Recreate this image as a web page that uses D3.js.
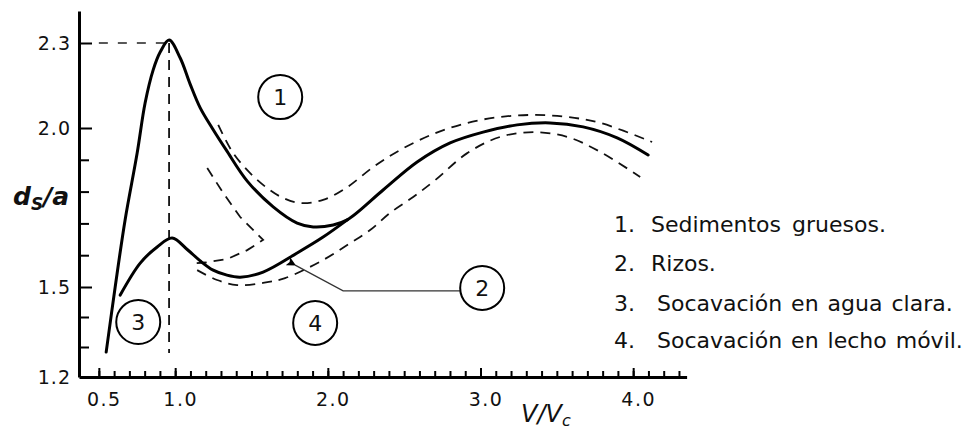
<!DOCTYPE html>
<html>
<head>
<meta charset="utf-8">
<title>Socavación: ds/a contra V/Vc</title>
<script src="https://cdn.jsdelivr.net/npm/d3@7"></script>
<style>
  body { margin: 0; background: #fff; }
  text { font-family: "DejaVu Sans", sans-serif; fill: #111; }
</style>
</head>
<body>
<script>
// curvas: [V/Vc, ds/a]
var curvaGruesos = [[0.548,1.283],[0.607,1.50],[0.672,1.711],[0.751,1.921],[0.803,2.088],[0.856,2.205],
  [0.902,2.268],[0.96,2.31],[1.033,2.247],[1.098,2.155],[1.164,2.071],[1.242,2.0],[1.334,1.931],
  [1.472,1.833],[1.642,1.752],[1.799,1.701],[1.904,1.689],[2.035,1.695],[2.127,1.711],[2.362,1.805],
  [2.585,1.893],[2.801,1.953],[3.017,1.987],[3.24,2.011],[3.456,2.018],[3.672,2.004],[3.895,1.969],[4.098,1.915]];

var curvaRizos = [[0.64,1.473],[0.771,1.575],[0.882,1.626],[0.98,1.654],[1.079,1.618],[1.164,1.582],
  [1.249,1.553],[1.334,1.538],[1.426,1.531],[1.576,1.547],[1.799,1.607],[1.969,1.657],[2.127,1.711]];

// envolventes punteadas
var limiteSuperior = [[1.282,2.011],[1.38,1.921],[1.491,1.858],[1.603,1.811],[1.707,1.78],[1.819,1.764],
  [1.969,1.774],[2.127,1.814],[2.297,1.877],[2.474,1.931],[2.69,1.981],[2.913,2.018],[3.129,2.039],
  [3.345,2.046],[3.568,2.039],[3.784,2.018],[4.124,1.956]];

var limiteCuna = [[1.21,1.874],[1.314,1.796],[1.426,1.72],[1.576,1.648],[1.472,1.616],[1.341,1.588],
  [1.2,1.577],[1.131,1.575]];

var limiteInferior = [[1.144,1.553],[1.275,1.522],[1.406,1.506],[1.576,1.513],[1.72,1.528],[1.969,1.585],
  [2.146,1.638],[2.277,1.679],[2.408,1.733],[2.559,1.783],[2.703,1.836],[2.913,1.921],[3.129,1.972],
  [3.345,1.987],[3.568,1.972],[3.784,1.925],[4.046,1.846]];

// pico y flecha hacia la zona 2
var pico = [0.96, 2.3];
var flecha = [[1.786,1.569],[2.1,1.487],[2.867,1.487]];

// zonas numeradas
var zonas = [["1", 1.688, 2.109], ["2", 3.011, 1.497], ["3", 0.758, 1.383], ["4", 1.917, 1.38]];

// ejes
var xMarcas = d3.range(5, 44).map(function(d) { return d / 10; });
var xEtiquetas = [0.5, 1.0, 2.0, 3.0, 4.0];
var yMarcas = [1.3, 1.4, 1.6, 1.7, 1.8, 1.9];
var yEtiquetas = [1.2, 1.5, 2.0, 2.3];

var leyenda = [["1.", "Sedimentos gruesos."], ["2.", "Rizos."],
  ["3.", "Socavación en agua clara."], ["4.", "Socavación en lecho móvil."]];

var breedte = 968, hoogte = 430;

var svg = d3.select("body").append("svg")
  .attr("width", breedte)
  .attr("height", hoogte);

// escala x lineal, escala y por tramos (la figura original esta dibujada a mano)
var x = d3.scaleLinear().domain([0.37, 4.35]).range([79, 686.6]);
var y = d3.scaleLinear().domain([1.2, 1.5, 2.0, 2.3, 2.41]).range([377, 287, 128, 43, 11]);

var linea = d3.line()
  .x(function(d) { return x(d[0]); })
  .y(function(d) { return y(d[1]); })
  .curve(d3.curveCatmullRom.alpha(0.5));

var lineaRecta = d3.line()
  .x(function(d) { return x(d[0]); })
  .y(function(d) { return y(d[1]); });

// lineas de referencia del pico
svg.append("line")
  .attr("x1", x(0.5)).attr("x2", x(pico[0]))
  .attr("y1", y(pico[1])).attr("y2", y(pico[1]))
  .attr("stroke", "#222").attr("stroke-width", 1.6)
  .attr("stroke-dasharray", "9,10");

svg.append("line")
  .attr("x1", x(pico[0])).attr("x2", x(pico[0]))
  .attr("y1", y(pico[1])).attr("y2", y(1.28))
  .attr("stroke", "#111").attr("stroke-width", 1.8)
  .attr("stroke-dasharray", "10,7");

// envolventes punteadas
[limiteSuperior, limiteInferior].forEach(function(datos) {
  svg.append("path")
    .attr("d", linea(datos))
    .attr("fill", "none")
    .attr("stroke", "#111")
    .attr("stroke-width", 1.8)
    .attr("stroke-dasharray", "10,7");
});

svg.append("path")
  .attr("d", lineaRecta(limiteCuna))
  .attr("fill", "none")
  .attr("stroke", "#111")
  .attr("stroke-width", 1.8)
  .attr("stroke-dasharray", "10,7");

// curvas principales
[curvaGruesos, curvaRizos].forEach(function(datos) {
  svg.append("path")
    .attr("d", linea(datos))
    .attr("fill", "none")
    .attr("stroke", "#000")
    .attr("stroke-width", 3)
    .attr("stroke-linecap", "round")
    .attr("stroke-linejoin", "round");
});

// flecha hacia la zona 2
svg.append("defs").append("marker")
  .attr("id", "punta")
  .attr("viewBox", "0 0 10 10")
  .attr("refX", 1).attr("refY", 5)
  .attr("markerWidth", 9).attr("markerHeight", 9)
  .attr("markerUnits", "userSpaceOnUse")
  .attr("orient", "auto-start-reverse")
  .append("path")
  .attr("d", "M0,5L10,0L8,5L10,10Z")
  .attr("fill", "#000");

svg.append("path")
  .attr("d", lineaRecta(flecha))
  .attr("fill", "none")
  .attr("stroke", "#333")
  .attr("stroke-width", 1.3)
  .attr("marker-start", "url(#punta)");

// circulos numerados
var zona = svg.selectAll(".zona")
  .data(zonas)
  .enter()
  .append("g")
  .attr("class", "zona")
  .attr("transform", function(d) { return "translate(" + x(d[1]) + "," + y(d[2]) + ")"; });

zona.append("circle")
  .attr("r", 22)
  .attr("fill", "#fff")
  .attr("stroke", "#000")
  .attr("stroke-width", 2);

zona.append("text")
  .attr("text-anchor", "middle")
  .attr("dy", "0.36em")
  .attr("font-size", "22px")
  .text(function(d) { return d[0]; });

// eje x
svg.append("g")
  .attr("transform", "translate(0," + y(1.2) + ")")
  .call(d3.axisBottom(x).tickValues(xMarcas).tickSizeInner(-6).tickSizeOuter(0).tickFormat(""))
  .call(function(g) {
    g.select(".domain").attr("stroke-width", 3);
    g.selectAll(".tick line").attr("stroke-width", 2);
  });

svg.append("g")
  .attr("transform", "translate(0," + y(1.2) + ")")
  .call(d3.axisBottom(x).tickValues(xEtiquetas).tickSizeInner(-9).tickSizeOuter(0).tickPadding(16)
    .tickFormat(d3.format(".1f")))
  .call(function(g) {
    g.select(".domain").remove();
    g.selectAll(".tick line").attr("stroke-width", 2);
    g.selectAll(".tick text")
      .attr("font-family", "DejaVu Sans")
      .attr("font-size", "19px")
      .attr("letter-spacing", "1.5px")
      .attr("dx", 5)
      .attr("fill", "#111");
  });

// eje y
svg.append("g")
  .attr("transform", "translate(" + x(0.37) + ",0)")
  .call(d3.axisLeft(y).tickValues(yMarcas).tickSizeInner(-10).tickSizeOuter(0).tickFormat(""))
  .call(function(g) {
    g.select(".domain").attr("stroke-width", 3);
    g.selectAll(".tick line").attr("stroke-width", 2);
  });

svg.append("g")
  .attr("transform", "translate(" + x(0.37) + ",0)")
  .call(d3.axisLeft(y).tickValues(yEtiquetas).tickSizeInner(-13).tickSizeOuter(0).tickPadding(8)
    .tickFormat(d3.format(".1f")))
  .call(function(g) {
    g.select(".domain").remove();
    g.selectAll(".tick line").attr("stroke-width", 2)
      .attr("display", function(d) { return d === 1.2 ? "none" : null; });
    g.selectAll(".tick text")
      .attr("font-family", "DejaVu Sans")
      .attr("font-size", "19px")
      .attr("letter-spacing", "1px")
      .attr("fill", "#111");
  });

// titulos de los ejes
var tituloY = svg.append("text")
  .attr("x", 13)
  .attr("y", 205)
  .attr("font-family", "Liberation Serif")
  .attr("font-style", "italic")
  .attr("font-weight", "bold")
  .attr("font-size", "25px");
tituloY.append("tspan").text("d");
tituloY.append("tspan").attr("font-size", "17px").attr("dy", 5).text("S");
tituloY.append("tspan").attr("dy", -5).text("/a");

var tituloX = svg.append("text")
  .attr("x", 521)
  .attr("y", 422)
  .attr("font-family", "Liberation Serif")
  .attr("font-style", "italic")
  .attr("font-size", "24px");
tituloX.append("tspan").text("V/V");
tituloX.append("tspan").attr("font-size", "16px").attr("dy", 4).text("c");

// leyenda
var filas = [232, 271, 311, 348];
var fila = svg.selectAll(".leyenda")
  .data(leyenda)
  .enter()
  .append("text")
  .attr("class", "leyenda")
  .attr("y", function(d, i) { return filas[i]; })
  .attr("font-size", "22px")
  .attr("word-spacing", function(d, i) { return i < 2 ? "4px" : "2px"; });

fila.append("tspan").attr("x", 614).text(function(d) { return d[0]; });
fila.append("tspan").attr("x", function(d, i) { return i < 2 ? 651 : 657; }).text(function(d) { return d[1]; });
</script>
</body>
</html>
